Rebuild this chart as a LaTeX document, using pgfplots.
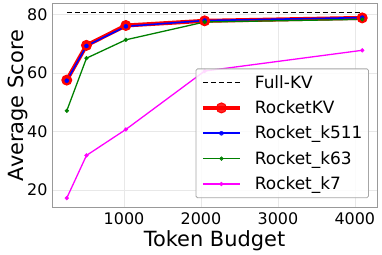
\documentclass[border=0pt]{standalone}
\usepackage{pgfplots}
\pgfplotsset{compat=1.18}
\usepackage{fontspec}
\setmainfont{DejaVu Sans}
\definecolor{mgreen}{RGB}{0,128,0}
\definecolor{mmag}{RGB}{255,0,255}
\begin{document}
\begin{tikzpicture}
\path[use as bounding box] (-52bp,-47.3bp) rectangle (330bp,207.7bp);
\begin{axis}[
  at={(0,0)}, anchor=south west,
  scale only axis, width=325bp, height=204.4bp,
  xmin=64, xmax=4288, ymin=13.9, ymax=83.9,
  xtick={1000,2000,3000,4000},
  ytick={20,40,60,80},
  /pgf/number format/assume math mode=true,
  scaled x ticks=false,
  xticklabel style={/pgf/number format/1000 sep={}},
  tick label style={font=\fontsize{16}{16}\selectfont},
  major tick length=0pt,
  axis line style={draw=gray!80, line width=0.8pt},
  grid=major, grid style={gray!18, line width=0.5pt},
  xlabel={Token Budget}, ylabel={Average Score},
  label style={font=\fontsize{21}{21}\selectfont},
  xlabel style={at={(axis description cs:0.5,0)}, anchor=north, yshift=-19bp},
  ylabel style={at={(axis description cs:0,0.5)}, anchor=south, yshift=21bp},
  xticklabel style={yshift=-1bp},
  yticklabel style={xshift=-1bp},
  legend style={at={(0.975,0.047)}, anchor=south east, draw=gray!70, line width=0.8pt,
    fill=white, fill opacity=0.85, text opacity=1, rounded corners=1.5pt,
    font=\fontsize{17}{17}\selectfont, inner xsep=5bp, inner ysep=5.5bp,
    row sep=9bp, nodes={inner sep=1bp},
    /tikz/every odd column/.append style={column sep=12bp}},
  legend cell align=left,
  legend image code/.code={\draw[mark repeat=2,mark phase=2,#1] plot coordinates {(0bp,0bp) (18.5bp,0bp) (37bp,0bp)};},
]
\addplot[black, dash pattern=on 5bp off 3bp, line width=1.2pt] coordinates {(256,80.7) (4096,80.7)};
\addlegendentry{Full-KV}
\addplot[red, line width=4pt, mark=*, mark size=5pt, mark options={solid, line width=1pt}] coordinates {
(256,57.6) (512,69.5) (1024,76.3) (2048,77.9) (4096,78.9)};
\addlegendentry{RocketKV}
\addplot[blue, line width=1.6pt, mark=*, mark size=2pt, mark options={line width=0.5pt}] coordinates {
(256,57.4) (512,69.3) (1024,76.0) (2048,78.0) (4096,79.0)};
\addlegendentry{Rocket\_k511}
\addplot[mgreen, line width=1.3pt, mark=*, mark size=1.9pt, mark options={line width=0.5pt}] coordinates {
(256,47.1) (512,65.1) (1024,71.4) (2048,77.5) (4096,78.4)};
\addlegendentry{Rocket\_k63}
\addplot[mmag, line width=1.3pt, mark=*, mark size=1.9pt, mark options={line width=0.5pt}] coordinates {
(256,17.2) (512,31.8) (1024,40.7) (2048,60.7) (4096,67.8)};
\addlegendentry{Rocket\_k7}
\end{axis}
\end{tikzpicture}
\end{document}
